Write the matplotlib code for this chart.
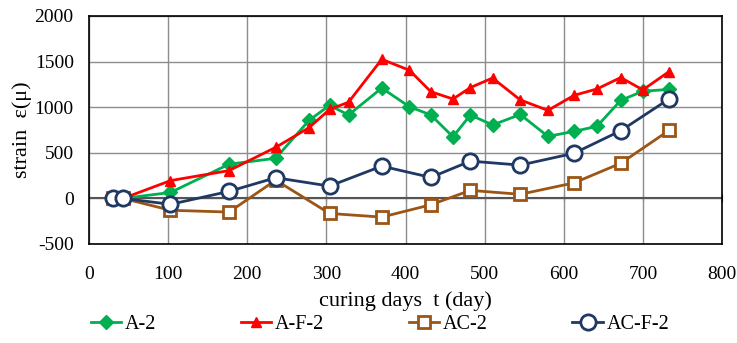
import matplotlib
matplotlib.use("Agg")
import matplotlib.pyplot as plt

plt.rcParams["font.family"] = ["Liberation Serif", "DejaVu Serif"]
plt.rcParams["axes.unicode_minus"] = False

days = [30, 43, 103, 177, 236, 278, 304, 328, 370, 405, 432, 460, 482, 510, 545, 580, 613, 642, 672, 700, 733]
a2 = [0, 0, 65, 375, 440, 855, 1020, 915, 1210, 1005, 915, 675, 915, 805, 920, 680, 735, 790, 1075, 1175, 1195]
af2 = [0, 0, 195, 305, 560, 775, 975, 1055, 1525, 1405, 1170, 1090, 1215, 1320, 1080, 965, 1130, 1200, 1325, 1190, 1390]

days_c = [30, 43, 103, 177, 236, 304, 370, 432, 482, 545, 613, 672, 733]
ac2 = [0, 0, -130, -150, 200, -165, -205, -70, 88, 45, 170, 385, 745]
acf2 = [0, 0, -65, 77, 227, 135, 354, 230, 409, 365, 495, 742, 1090]

fig = plt.figure(figsize=(7.37, 3.43), dpi=100)
ax = fig.add_axes([89 / 737, 1 - 244 / 343, (722 - 89) / 737, (244 - 16) / 343])

ax.plot(days, a2, "-D", color="#00B050", lw=2, ms=7, label="A-2")
ax.plot(days, af2, "-^", color="#FF0000", lw=2, ms=7, label="A-F-2")
ax.plot(days_c, ac2, "-s", color="#9C5515", lw=2, ms=9, mfc="white", mew=2, label="AC-2")
ax.plot(days_c, acf2, "-o", color="#1F3864", lw=2, ms=11, mfc="white", mew=2, label="AC-F-2")

ax.set_xlim(0, 800)
ax.set_ylim(-500, 2000)
ax.set_xticks(range(0, 801, 100))
ax.set_yticks(range(-500, 2001, 500))
ax.grid(True, color="#8c8c8c", lw=1)
ax.set_axisbelow(True)
ax.axhline(0, color="#555555", lw=1.5, zorder=1.5)
ax.tick_params(length=0, labelsize=14)
ax.tick_params(axis="x", pad=16)
ax.tick_params(axis="y", pad=11)
for s in ax.spines.values():
    s.set_color("black")
    s.set_linewidth(1.2)

# Excel-style tick marks on the zero line
sec = ax.secondary_xaxis(0.2)
sec.set_xticks(range(0, 801, 100))
sec.tick_params(direction="inout", length=6, labelbottom=False, labeltop=False, color="#333333")
sec.spines["bottom"].set_visible(False)
sec.spines["top"].set_visible(False)

ax.set_xlabel("curing days  t (day)", fontsize=16, labelpad=6)
ax.set_ylabel("strain  ε(μ)", fontsize=16, labelpad=2)

fig.legend(loc="center", bbox_to_anchor=(380 / 737, 1 - 324 / 343), ncol=4,
           frameon=False, fontsize=14.5, columnspacing=4.2, handlelength=1.5, handletextpad=0.2)

fig.savefig("out.png", dpi=100)
